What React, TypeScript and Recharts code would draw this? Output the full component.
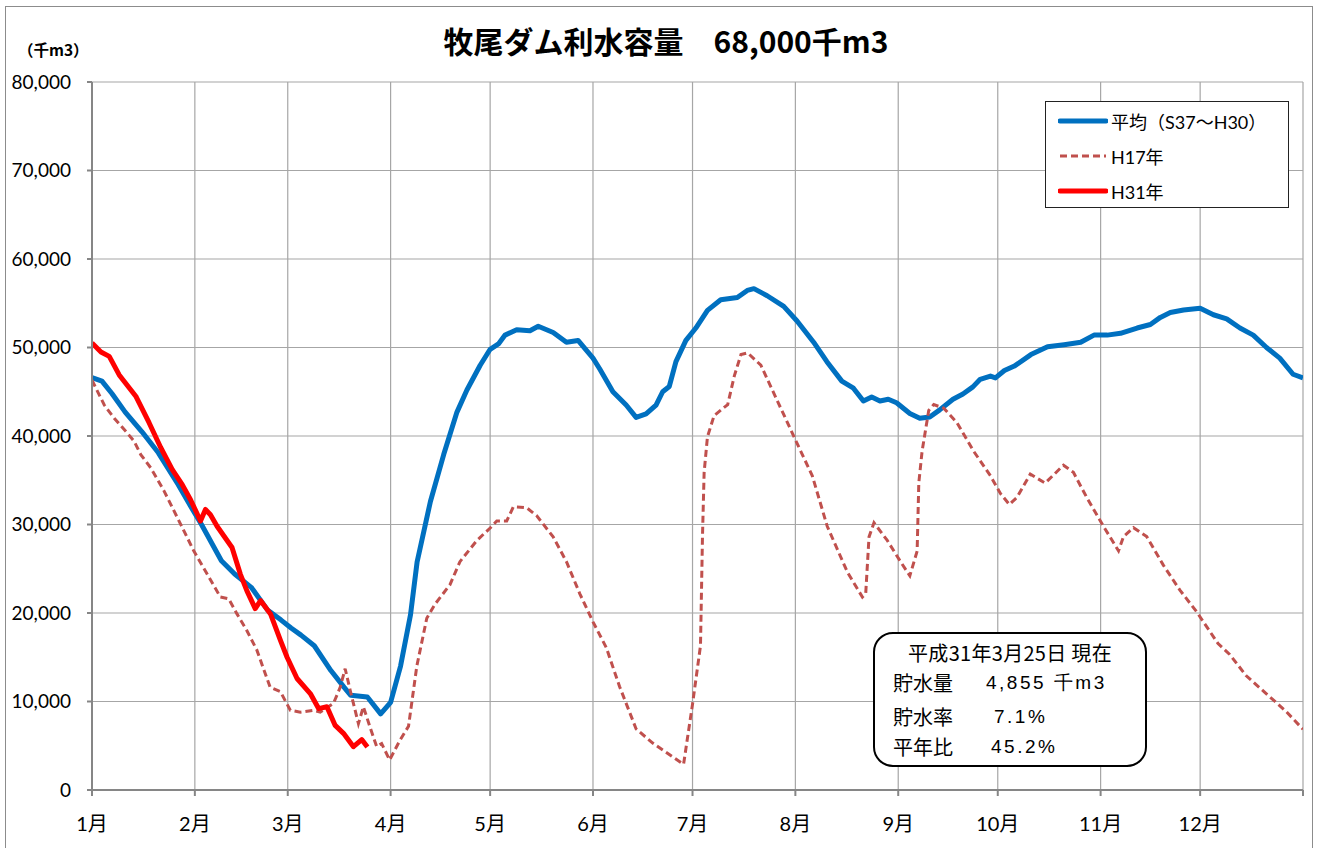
import React from "react";
import { LineChart, Line, XAxis, YAxis, CartesianGrid, Legend } from "recharts";

// 月の区切り（1月1日を0日目とした通し日）
const monthStarts = [0, 31, 59, 90, 120, 151, 181, 212, 243, 273, 304, 334];
const monthLabels = ["1月", "2月", "3月", "4月", "5月", "6月", "7月", "8月", "9月", "10月", "11月", "12月"];
const yTicks = [0, 10000, 20000, 30000, 40000, 50000, 60000, 70000, 80000];

// 平均（S37～H30） [日, 千m3]
const avgSeries: [number, number][] = [
    [0, 46600], [3, 46200], [6, 44800], [10, 42700], [15, 40500], [20, 38100], [26, 34500], [30, 31900],
    [33, 30000], [39, 25900], [43, 24400], [48, 22900], [53, 20300], [57, 19200], [60, 18300], [63, 17500],
    [67, 16300], [72, 13500], [76, 11600], [78, 10700], [83, 10500], [87, 8600], [90, 9900], [93, 14000],
    [96, 19800], [98, 25800], [102, 32600], [106, 37900], [110, 42700], [113, 45200], [117, 48000], [120, 49800],
    [122.5, 50400], [124.5, 51400], [128, 52000], [132, 51900], [134.5, 52400], [139, 51700], [143, 50600],
    [146.5, 50800], [151, 48800], [153, 47600], [157, 45000], [161, 43500], [164, 42100], [167, 42500],
    [170, 43500], [172, 45000], [174, 45600], [176, 48400], [179, 50800], [182, 52200], [185.5, 54200],
    [189.5, 55400], [194.5, 55650], [197.5, 56450], [199.5, 56650], [203.5, 55850], [208.5, 54640],
    [212.5, 53000], [217.5, 50600], [221.5, 48400], [226, 46200], [229.5, 45400], [232.5, 43950],
    [235, 44400], [237.5, 43950], [240, 44150], [242.5, 43750], [246.5, 42550], [249.5, 42000],
    [252.5, 42150], [255.5, 42950], [259.5, 44150], [262.5, 44750], [265.5, 45550], [267.7, 46400],
    [270.8, 46770], [272.3, 46570], [275, 47400], [278, 47900], [283, 49200], [288, 50080], [293, 50320],
    [298, 50600], [302, 51400], [306, 51400], [310, 51600], [315, 52200], [319, 52600], [322, 53400],
    [325, 53950], [329, 54230], [334, 54440], [338, 53700], [342, 53230], [346, 52200], [350, 51400],
    [354, 50000], [358, 48800], [362, 46980], [365, 46570],
];

// H17年
const h17Series: [number, number][] = [
    [0, 46300], [3.7, 43500], [6.7, 42000], [10.7, 40300], [12.7, 39400], [14.7, 37900], [17.7, 36400],
    [21.7, 33800], [25.7, 30800], [30.7, 27000], [34.7, 24400], [38.7, 21800], [41.2, 21600], [43.7, 19900],
    [46.7, 18000], [49.7, 15800], [53.7, 11600], [56.8, 11100], [59.8, 9000], [62.8, 8800], [66.8, 9000],
    [68.8, 8800], [72.8, 9800], [74.8, 11600], [76.3, 13700], [77.8, 11300], [80.3, 7500], [81.8, 9400],
    [83.8, 7100], [85.8, 4900], [87.3, 5250], [89.7, 3400], [92.8, 5600], [95.4, 7200], [97.9, 14000],
    [100.9, 19400], [103.4, 21000], [107.9, 23200], [110.9, 25800], [116, 28200], [120, 29600],
    [122, 30400], [125, 30400], [127, 32000], [131, 31900], [134, 31000], [139, 28600], [143, 25800],
    [147, 22200], [151, 19000], [155, 16100], [159, 11700], [164, 6900], [169, 5300], [174, 4000],
    [178.3, 2900], [181, 9700], [183.4, 16300], [184, 28600], [184.5, 35900], [185.5, 39900], [187.5, 42300],
    [191.6, 43550], [193.6, 46800], [195.6, 49200], [197.6, 49400], [201.6, 48000], [206.6, 43950],
    [211.6, 39900], [217.1, 35500], [221.6, 29800], [227.7, 24600], [232.2, 21800], [233.2, 22200],
    [234.2, 28600], [235.7, 30200], [239.7, 28200], [243.7, 25800], [246.5, 24200], [248.7, 27000],
    [249.2, 34700], [250.2, 38300], [252.2, 42900], [253.7, 43550], [256.7, 43150], [260.7, 41500],
    [265.7, 38300], [270.8, 35500], [273.8, 33500], [276.5, 32260], [278.8, 33070], [282.8, 35690],
    [287.3, 34680], [292.8, 36700], [295.8, 35890], [299.8, 33070], [304.8, 29840], [309.4, 27020],
    [310.9, 28630], [313.9, 29640], [317.9, 28630], [322.9, 25410], [327.9, 22580], [332.9, 20160],
    [339.4, 16540], [342.9, 15320], [347.9, 12900], [353.9, 10890], [359.9, 8880], [365, 6860],
];

// H31年（3月25日まで）
const h31Series: [number, number][] = [
    [0, 50500], [2.7, 49500], [5.2, 49000], [8.2, 46900], [13.2, 44500], [17.2, 41500], [20.7, 38700],
    [24.2, 36200], [27.2, 34500], [29.7, 32800], [32.7, 30400], [34.2, 31700], [35.7, 31100], [37.7, 29800],
    [42.2, 27400], [44.7, 24400], [46.7, 22500], [49.2, 20500], [50.8, 21400], [53.8, 19900], [56.8, 16900],
    [58.8, 15000], [61.8, 12600], [65.8, 10900], [68.3, 9200], [70.8, 9400], [73.3, 7300], [75.8, 6400],
    [78.8, 4900], [81.3, 5700], [83, 4855],
];

const toPoints = (s: [number, number][]) => s.map(([d, v]) => ({ d, v }));

const FONT = 'Lato, "Noto Sans CJK JP", sans-serif';
const CJK = '"Noto Sans CJK JP", sans-serif';
const LATIN = '"Liberation Sans", sans-serif';

const legendItems = [
    { name: "平均（S37～H30）", color: "#0070C0", width: 5, dash: undefined },
    { name: "H17年", color: "#C0504D", width: 3, dash: "7 4" },
    { name: "H31年", color: "#FF0000", width: 5, dash: undefined },
];

const LegendBox = () => (
    <div style={{ width: 244, height: 107, border: "1.5px solid #222", background: "#fff", boxSizing: "border-box", paddingTop: 1, paddingLeft: 12 }}>
        {legendItems.map((it) => (
            <div key={it.name} style={{ display: "flex", alignItems: "center", height: 35 }}>
                <svg width={50} height={8}>
                    <line x1={2} y1={4} x2={48} y2={4} stroke={it.color} strokeWidth={it.width} strokeDasharray={it.dash} strokeLinecap={it.dash ? "butt" : "round"} />
                </svg>
                <span style={{ marginLeft: 3, fontSize: 18, fontFamily: FONT, color: "#000" }}>{it.name}</span>
            </div>
        ))}
    </div>
);

const monthLabel = (v: number) => {
    const i = monthStarts.indexOf(v);
    return i >= 0 ? monthLabels[i] : "";
};

export default function App() {
    const rowStyle: React.CSSProperties = { position: "absolute", left: 18, fontSize: 20, lineHeight: "24px", fontFamily: CJK, color: "#000", whiteSpace: "pre" };
    const valStyle: React.CSSProperties = { position: "absolute", fontFamily: LATIN, fontSize: 19, letterSpacing: 2.5 };
    return (
        <div style={{ position: "absolute", left: 0, top: 0, width: 1331, height: 848, overflow: "hidden", background: "#fff" }}>
            <div style={{ position: "absolute", left: 5, top: 6, width: 1308, height: 870, border: "1.5px solid #8c8c8c", boxSizing: "border-box" }} />
            <LineChart width={1331} height={848} margin={{ top: 82, right: 28, bottom: 28, left: 0 }}>
                <CartesianGrid stroke="#a6a6a6" strokeWidth={1.2} />
                <XAxis
                    type="number"
                    dataKey="d"
                    domain={[0, 365]}
                    ticks={[...monthStarts, 365]}
                    tickFormatter={monthLabel}
                    height={30}
                    tickSize={6}
                    tickMargin={21}
                    stroke="#868686"
                    strokeWidth={2}
                    tick={{ fill: "#000", fontSize: 20, fontFamily: FONT }}
                    allowDataOverflow
                />
                <YAxis
                    domain={[0, 80000]}
                    ticks={yTicks}
                    width={92}
                    tickSize={5}
                    tickMargin={16}
                    stroke="#868686"
                    strokeWidth={2}
                    tickFormatter={(v: number) => v.toLocaleString("en-US")}
                    tick={{ fill: "#000", fontSize: 19, fontFamily: FONT }}
                />
                <Legend
                    layout="vertical"
                    align="center"
                    verticalAlign="middle"
                    content={() => <LegendBox />}
                    wrapperStyle={{ left: 1045, top: 101, width: 244, height: 107 }}
                />
                <Line data={toPoints(avgSeries)} dataKey="v" name="平均（S37～H30）" stroke="#0070C0" strokeWidth={5} dot={false} isAnimationActive={false} strokeLinejoin="round" />
                <Line data={toPoints(h17Series)} dataKey="v" name="H17年" stroke="#C0504D" strokeWidth={3} strokeDasharray="7 4" dot={false} isAnimationActive={false} />
                <Line data={toPoints(h31Series)} dataKey="v" name="H31年" stroke="#FF0000" strokeWidth={5} dot={false} isAnimationActive={false} strokeLinejoin="round" />
            </LineChart>

            <div style={{ position: "absolute", left: 366, width: 600, top: 23, textAlign: "center", fontSize: 30, lineHeight: "34px", fontWeight: 700, fontFamily: CJK, color: "#000", whiteSpace: "pre" }}>
                牧尾ダム利水容量　68,000千m3
            </div>
            <div style={{ position: "absolute", left: 18, top: 39, fontSize: 15.5, lineHeight: "20px", fontWeight: 700, fontFamily: CJK, color: "#000" }}>
                （千m3）
            </div>

            <div style={{ position: "absolute", left: 873, top: 632, width: 274, height: 135, border: "2px solid #000", borderRadius: 20, background: "#fff", boxSizing: "border-box" }}>
                <div style={{ ...rowStyle, left: 0, width: 270, textAlign: "center", top: 7, letterSpacing: 0.3 }}>平成31年3月25日 現在</div>
                <div style={{ ...rowStyle, top: 37 }}>
                    貯水量<span style={{ ...valStyle, left: 93 }}>4,855 千m3</span>
                </div>
                <div style={{ ...rowStyle, top: 71 }}>
                    貯水率<span style={{ ...valStyle, left: 101 }}>7.1%</span>
                </div>
                <div style={{ ...rowStyle, top: 101 }}>
                    平年比<span style={{ ...valStyle, left: 98 }}>45.2%</span>
                </div>
            </div>
        </div>
    );
}
